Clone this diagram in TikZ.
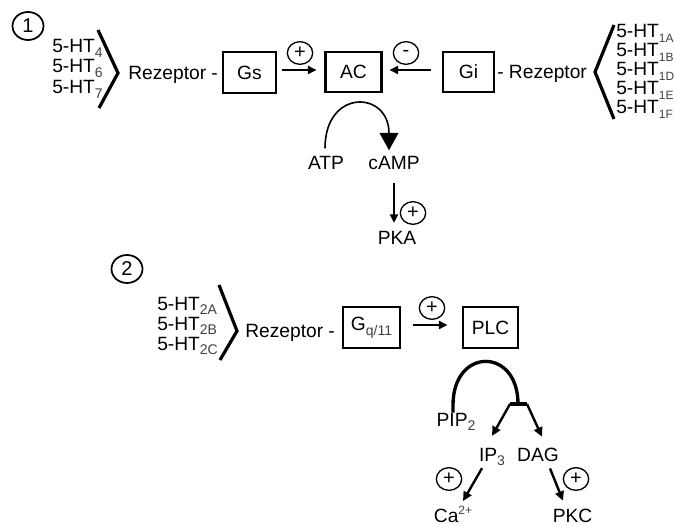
\documentclass[tikz,border=0pt]{standalone}
\usepackage{fontspec}
\setmainfont{Liberation Sans}
\usetikzlibrary{arrows.meta,shapes.geometric}
\newcommand\sbs[1]{\raisebox{-0.25em}{\fontsize{10.5pt}{10.5pt}\selectfont\color{black!75}#1}}
\newcommand\sbr[1]{\raisebox{-0.25em}{\fontsize{9pt}{9pt}\selectfont\color{black!75}#1}}
\newcommand\sps[1]{\raisebox{0.38em}{\fontsize{9pt}{9pt}\selectfont\color{black!75}#1}}
\begin{document}
\begin{tikzpicture}[x=0.75pt,y=-0.75pt,
  lbl/.style={inner sep=0pt, font=\fontsize{14.4pt}{16pt}\selectfont},
  box/.style={draw, line width=2.2pt, inner sep=0pt, font=\fontsize{14.4pt}{16pt}\selectfont},
  sign/.style={draw, ellipse, line width=1pt, minimum width=19pt, minimum height=17pt, inner sep=0pt, font=\fontsize{15pt}{15pt}\selectfont},
  num/.style={draw, ellipse, line width=1.3pt, minimum width=23.25pt, minimum height=21pt, inner sep=0pt, font=\fontsize{15pt}{15pt}\selectfont},
  chev/.style={line width=2.4pt},
  arr/.style={line width=1.6pt, -{Triangle[length=6.5pt,width=6pt]}},
  arrb/.style={line width=1.8pt, -{Triangle[length=7pt,width=6.5pt]}},
  ]
\useasboundingbox (0,0) rectangle (674,527);

% ---------- section 1 ----------
\node[num] (n1) at (28,26) {1};
\node[lbl, anchor=base west] (h4) at (52,53) {5-HT\sbs{4}};
\node[lbl, anchor=base west] (h6) at (52,73) {5-HT\sbs{6}};
\node[lbl, anchor=base west] (h7) at (52,94) {5-HT\sbs{7}};
\draw[chev] (98,30) -- (118,73) -- (99,108);
\node[lbl, anchor=base west] (r1) at (128,80) {Rezeptor -};

\node[box, minimum width=39.75pt, minimum height=30.75pt] (gs) at (249.5,72.5) {Gs};
\node[box, minimum width=42pt, minimum height=30pt] (ac) at (353.5,72) {AC};
\node[box, minimum width=38.25pt, minimum height=30pt] (gi) at (468.5,72) {Gi};

\node[sign] (s1) at (300,53) {+};
\node[sign] (s2) at (406,53) {-};

\draw[arr] ([shift={(5,-2.5)}]gs.east) -- ([shift={(-7.5,-2)}]ac.west);
\draw[arr] ([shift={(-11,-2)}]gi.west) -- ([shift={(6.5,-2)}]ac.east);

\node[lbl, anchor=base west] (r2) at (497,79) {- Rezeptor};
\draw[chev] (614,25) -- (595,72) -- (614,119);
\node[lbl, anchor=base west] (h1a) at (616,38) {5-HT\sbr{1A}};
\node[lbl, anchor=base west] (h1b) at (616,57) {5-HT\sbr{1B}};
\node[lbl, anchor=base west] (h1d) at (616,76) {5-HT\sbr{1D}};
\node[lbl, anchor=base west] (h1e) at (616,95) {5-HT\sbr{1E}};
\node[lbl, anchor=base west] (h1f) at (616,114) {5-HT\sbr{1F}};

\node[lbl, anchor=base] (atp) at (326,170) {ATP};
\node[lbl, anchor=base] (camp) at (394,170) {cAMP};
\node[lbl, anchor=base] (pka) at (397,244) {PKA};

\draw[line width=1.2pt, -{Triangle[length=13pt,width=14pt]}]
  ([shift={(-1,-8.25)}]atp.north) .. controls +(0,-60) and +(0,-60) .. ([shift={(-5,-6.25)}]camp.north);
\draw[arr] ([shift={(0,13)}]camp.south) -- ([shift={(-3,-7.6)}]pka.north);
\node[sign] (s3) at (413,213) {+};

% ---------- section 2 ----------
\node[num] (n2) at (127,269) {2};
\node[lbl, anchor=base west] (h2a) at (157,310) {5-HT\sbs{2A}};
\node[lbl, anchor=base west] (h2b) at (157,330) {5-HT\sbs{2B}};
\node[lbl, anchor=base west] (h2c) at (157,350) {5-HT\sbs{2C}};
\draw[chev] (219,285) -- (237,331) -- (220,360);
\node[lbl, anchor=base west] (r3) at (245,337) {Rezeptor -};

\node[box, minimum width=42.75pt, minimum height=30.75pt] (gq) at (371.5,327.5) {G\sbs{q/11}};
\node[box, minimum width=41.25pt, minimum height=30.75pt] (plc) at (490.5,327.5) {PLC};
\node[sign] (s4) at (432,308) {+};
\draw[arr] ([shift={(12,-2.5)}]gq.east) -- ([shift={(-14,-2.5)}]plc.west);

\node[lbl, anchor=base] (pip) at (456,426) {PIP\sbs{2}};
\node[lbl, anchor=base] (ip3) at (492,461) {IP\sbs{3}};
\node[lbl, anchor=base] (dag) at (538,461) {DAG};
\node[lbl, anchor=base] (ca) at (453,522) {Ca\sps{2+}};
\node[lbl, anchor=base] (pkc) at (572.5,522) {PKC};

\coordinate (jm) at (518,404);
\coordinate (jl) at (510,404);
\coordinate (jr) at (527,404);

\draw[line width=2.5pt] ([shift={(-3,0)}]pip.north) -- ++(0,-7.5)
  .. controls +(0,-58) and +(0,-57) .. (jm);
\draw[line width=2.5pt] (jl) -- (jr);
\draw[arrb] (jl) -- ([shift={(0,-11.6)}]ip3.north);
\draw[arrb] (jr) -- ([shift={(4,-10.6)}]dag.north);

\draw[arrb] ([shift={(-10,2)}]ip3.south) -- ([shift={(10,-5)}]ca.north);
\draw[arrb] ([shift={(12,7)}]dag.south) -- ([shift={(-9.5,-7.6)}]pkc.north);
\node[sign] (s5) at (449,479) {+};
\node[sign] (s6) at (576,479) {+};
\end{tikzpicture}
\end{document}
